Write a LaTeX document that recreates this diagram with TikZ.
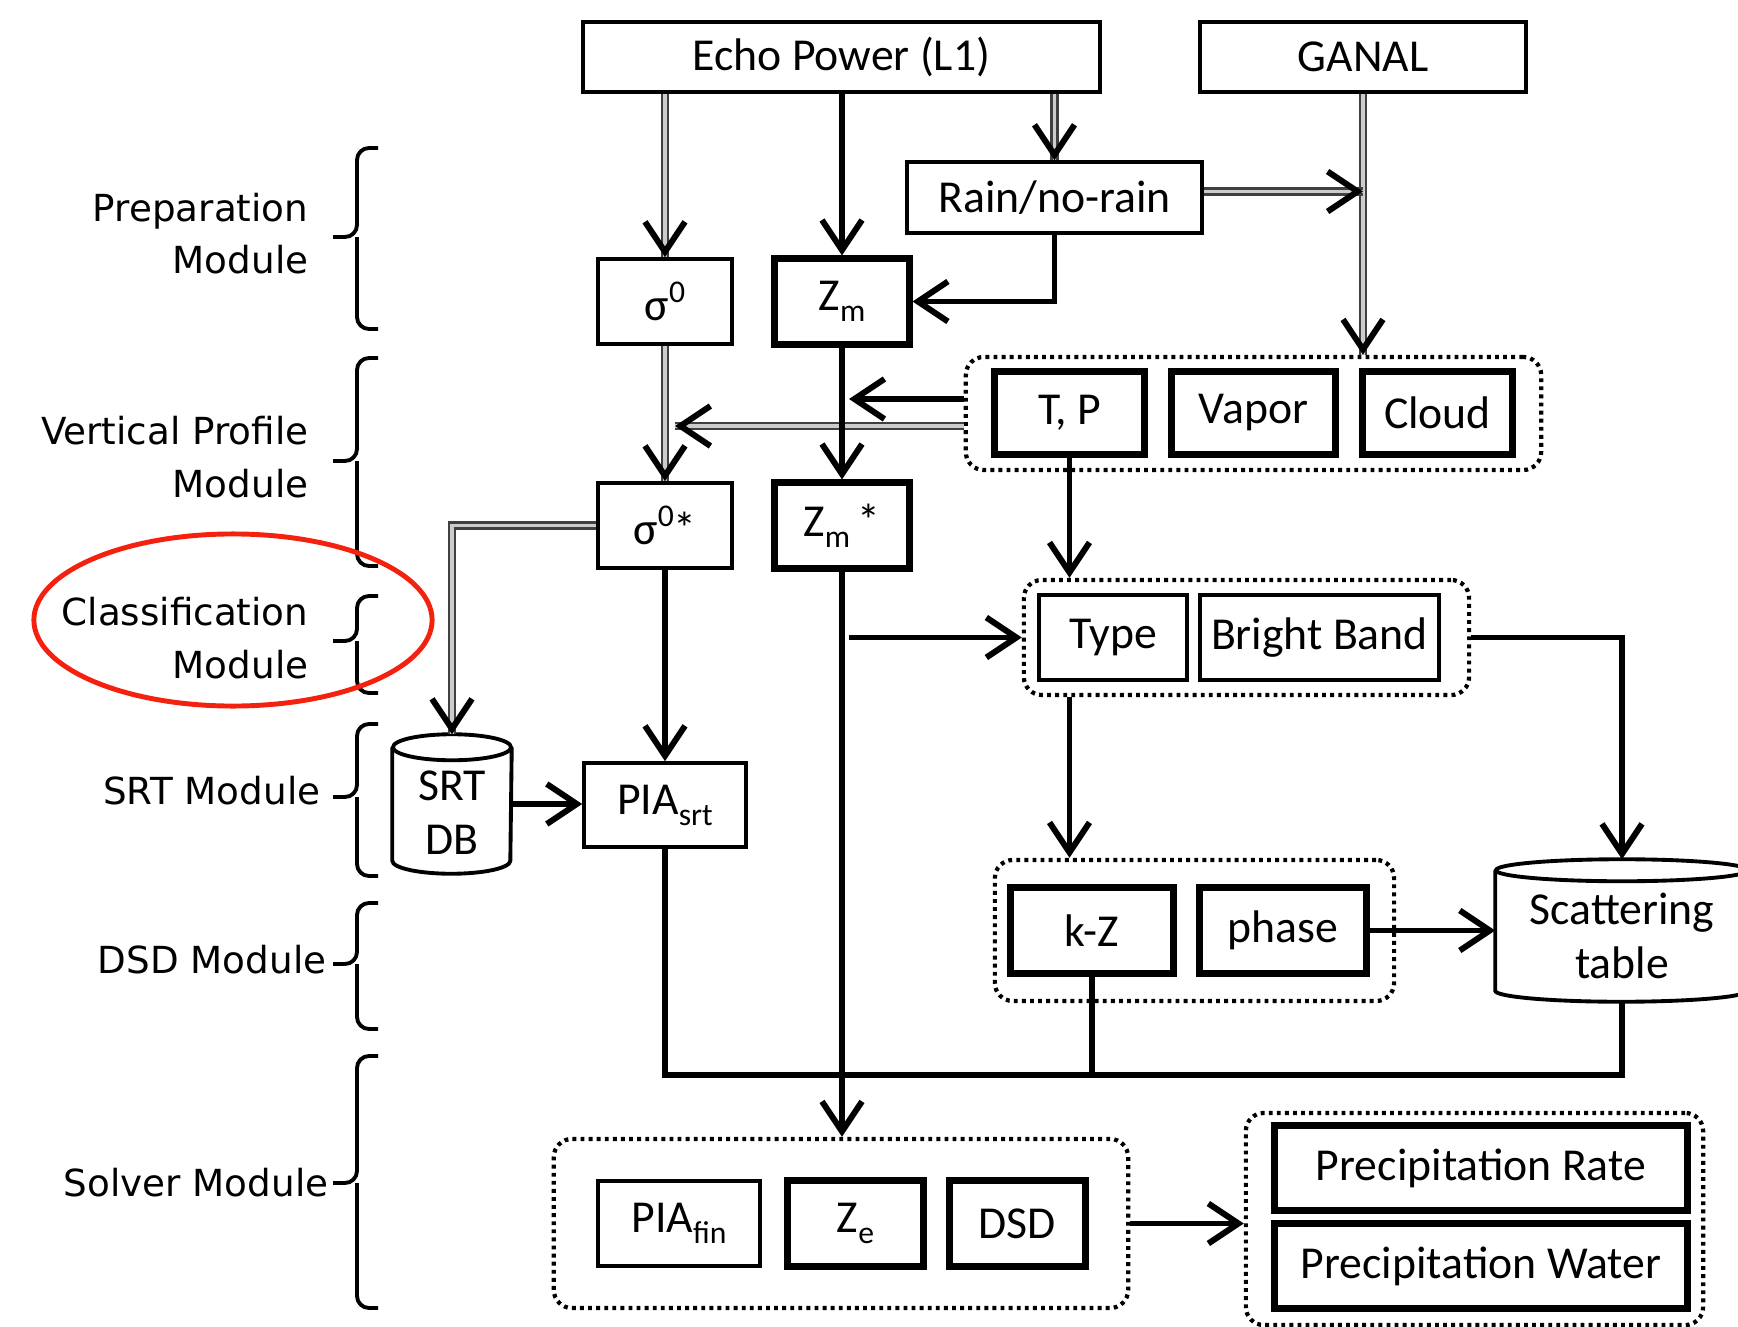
\documentclass[tikz,border=0pt]{standalone}
\usepackage{fontspec}
\setmainfont{Carlito}
\newfontfamily\lblfont{DejaVu Sans}
\usetikzlibrary{arrows.meta,calc}
\newcommand{\sbs}[1]{\raisebox{-0.5ex}{\fontsize{9}{9}\selectfont #1}}
\newcommand{\sps}[1]{\raisebox{0.85ex}{\fontsize{9}{9}\selectfont #1}}
\definecolor{ringred}{HTML}{F5210F}
\newcommand{\modbrace}[3]{\draw[modbr] (378,#1) -- (357,#1) -- (357,#2) -- (333,#2) (357,#2) -- (357,#3) -- (378,#3);}
\begin{document}
\begin{tikzpicture}[x=0.01cm,y=-0.01cm,
  every node/.style={font=\fontsize{13}{15.4}\selectfont, inner sep=0pt, text=black},
  thinbox/.style={draw, line width=1pt, align=center, fill=white},
  thickbox/.style={draw, line width=2pt, align=center, fill=white},
  grp/.style={draw, line width=1.2pt, dash pattern=on 1.1pt off 1.2pt, rounded corners=1.8mm},
  conn/.style={line width=1.7pt},
  arr/.style={conn, -{Straight Barb[length=3mm, width=4mm]}},
  dbl/.style={draw=black!75, line width=0.75pt, double=black!20, double distance=0.9pt},
  modbr/.style={line width=1.1pt, rounded corners=1.2mm},
  cyl/.style={line width=1.1pt, fill=white},
  lbl/.style={font=\lblfont\fontsize{10.6}{15}\selectfont, align=right, anchor=east},
]
\useasboundingbox (0,0) rectangle (1738,1327);

% ---------- nodes ----------
\node[thinbox, minimum width=5.17cm, minimum height=0.70cm] (echo) at (841.5,57) {Echo Power (L1)};
\node[thinbox, minimum width=3.26cm, minimum height=0.70cm] (ganal) at (1363,57) {GANAL};
\node[thinbox, minimum width=2.95cm, minimum height=0.71cm] (rain) at (1054.5,197.5) {Rain/no-rain};
\node[thinbox, minimum width=1.34cm, minimum height=0.85cm] (sig0) at (665,301.5) {σ\sps{0}};
\node[thickbox, minimum width=1.34cm, minimum height=0.85cm] (zm) at (842,301.5) {Z\sbs{m}};

\node[grp, minimum width=5.75cm, minimum height=1.13cm] (g1) at (1253.5,413.5) {};
\node[thickbox, minimum width=1.49cm, minimum height=0.82cm] (tp) at (1069.5,413) {T, P};
\node[thickbox, minimum width=1.63cm, minimum height=0.82cm] (vapor) at (1253.5,413) {Vapor};
\node[thickbox, minimum width=1.49cm, minimum height=0.82cm] (cloud) at (1437.5,413) {Cloud};

\node[thinbox, minimum width=1.34cm, minimum height=0.85cm] (sig0s) at (665,525.5) {σ\sps{0}*};
\node[thickbox, minimum width=1.34cm, minimum height=0.85cm] (zms) at (842,525.5) {Z\sbs{m}\,*};

\node[grp, minimum width=4.45cm, minimum height=1.15cm] (g2) at (1246.5,637.5) {};
\node[thinbox, minimum width=1.48cm, minimum height=0.85cm] (type) at (1113,637.5) {Type};
\node[thinbox, minimum width=2.39cm, minimum height=0.85cm] (bb) at (1319.5,637.5) {Bright Band};

\node[minimum width=1.18cm, minimum height=1.38cm] (srtdb) at (452,804) {};
\draw[cyl] ($(srtdb.north west)+(0,13)$) -- ($(srtdb.south west)+(0,-13)$)
  arc[start angle=180, end angle=360, x radius=0.59cm, y radius=0.13cm]
  -- ($(srtdb.north east)+(0,13)$);
\draw[cyl] ($(srtdb.north)+(0,13)$) ellipse [x radius=0.59cm, y radius=0.13cm];
\node[align=center] (srtdbt) at (452,813) {SRT\\DB};

\node[thinbox, minimum width=1.62cm, minimum height=0.84cm] (piasrt) at (665,805) {PIA\sbs{srt}};

\node[grp, minimum width=3.99cm, minimum height=1.41cm] (g3) at (1194.5,930.5) {};
\node[thickbox, minimum width=1.62cm, minimum height=0.85cm] (kz) at (1092,930.5) {k-Z};
\node[thickbox, minimum width=1.66cm, minimum height=0.85cm] (phase) at (1283,930.5) {phase};

\node[minimum width=2.52cm, minimum height=1.41cm] (scat) at (1622,930.5) {};
\draw[cyl] ($(scat.north west)+(0,11)$) -- ($(scat.south west)+(0,-11)$)
  arc[start angle=180, end angle=360, x radius=1.26cm, y radius=0.11cm]
  -- ($(scat.north east)+(0,11)$);
\draw[cyl] ($(scat.north)+(0,11)$) ellipse [x radius=1.26cm, y radius=0.11cm];
\node[align=center] (scatt) at (1622,936) {Scattering\\table};

\node[grp, minimum width=5.74cm, minimum height=1.69cm] (g4) at (841,1223.5) {};
\node[thinbox, minimum width=1.62cm, minimum height=0.85cm] (piafin) at (679,1223.5) {PIA\sbs{fin}};
\node[thickbox, minimum width=1.35cm, minimum height=0.85cm] (ze) at (855.5,1223.5) {Z\sbs{e}};
\node[thickbox, minimum width=1.35cm, minimum height=0.85cm] (dsd) at (1017.5,1223.5) {DSD};

\node[grp, minimum width=4.57cm, minimum height=2.12cm] (g5) at (1474.5,1219) {};
\node[thickbox, minimum width=4.12cm, minimum height=0.84cm] (prate) at (1481,1168) {Precipitation Rate};
\node[thickbox, minimum width=4.12cm, minimum height=0.84cm] (pwater) at (1481,1266) {Precipitation Water};

% ---------- connectors ----------
% Echo -> sigma0 (double)
\draw[dbl] (echo.south -| sig0.north) -- (sig0.north);
\draw[arr] ($(sig0.north)+(0,-8)$) -- (sig0.north);
% Echo -> Zm
\draw[arr] (echo.south -| zm.north) -- (zm.north);
% Echo -> Rain (double)
\draw[dbl] (echo.south -| rain.north) -- (rain.north);
\draw[arr] ($(rain.north)+(0,-8)$) -- (rain.north);
% GANAL -> group 1 (double)
\draw[dbl] (ganal.south) -- (ganal.south |- g1.north);
\draw[arr] ($(ganal.south |- g1.north)+(0,-8)$) -- (ganal.south |- g1.north);
% Rain -> GANAL line (double)
\coordinate (rj) at ($(rain.east)+(0,-6)$);
\draw[dbl] (rj) -- (rj -| ganal.south);
\draw[arr] ($(rj -| ganal.south)+(-8,0)$) -- (rj -| ganal.south);
% Rain -> Zm
\draw[arr] (rain.south) |- (zm.east);
% sigma0 -> sigma0* (double)
\draw[dbl] (sig0.south) -- (sig0s.north);
\draw[arr] ($(sig0s.north)+(0,-8)$) -- (sig0s.north);
% group 1 -> sigma line (double)
\coordinate (d1) at ($(g1.west)+(0,12.5)$);
\coordinate (d1e) at ($(d1 -| sig0.south)+(10,0)$);
\draw[dbl] (d1) -- (d1e);
\draw[arr] ($(d1e)+(8,0)$) -- (d1e);
% Zm -> Zm*
\draw[arr] (zm.south) -- (zms.north);
% group 1 -> Zm line
\coordinate (s1) at ($(g1.west)+(0,-14.5)$);
\coordinate (s1e) at ($(s1 -| zm.south)+(7,0)$);
\draw[arr] (s1) -- (s1e);
% T,P -> group 2
\draw[arr] (tp.south) -- (tp.south |- g2.north);
% sigma0* -> SRT DB (double)
\draw[dbl] (sig0s.west) -| (srtdb.north);
\draw[arr] ($(srtdb.north)+(0,-8)$) -- (srtdb.north);
% sigma0* -> PIA srt
\draw[arr] (sig0s.south) -- (piasrt.north);
% Zm* -> solver group
\draw[arr] (zms.south) -- (zms.south |- g4.north);
% Zm* line -> group 2
\coordinate (z2) at ($(zms.south |- g2.west)+(7,0)$);
\draw[arr] (z2) -- (g2.west);
% SRT DB -> PIA srt
\draw[arr] (srtdb.east) -- (srtdb.east -| piasrt.west);
% group 2 -> Scattering table
\draw[arr] (g2.east) -| (scat.north);
% group 2 -> group 3
\draw[arr] (tp.south |- g2.south) -- (tp.south |- g3.north);
% phase -> Scattering table
\draw[arr] (phase.east) -- (phase.east -| scat.west);
% bus
\coordinate (bus) at ($(piasrt.south)+(0,226)$);
\draw[conn] (piasrt.south) -- (bus) -| (scat.south);
\draw[conn] (kz.south) -- (kz.south |- bus);
% solver -> outputs
\draw[arr] (g4.east) -- (g4.east -| g5.west);

% ---------- module labels ----------
\node[lbl] (lprep) at (309,233.5) {Preparation\\Module};
\node[lbl] (lvert) at (309,457) {Vertical Profile\\Module};
\node[lbl] (lclass) at (309,638) {Classification\\Module};
\node[lbl] (lsrt) at (321,791) {SRT Module};
\node[lbl] (ldsd) at (327,960) {DSD Module};
\node[lbl] (lsolv) at (329,1183) {Solver Module};
\modbrace{148}{237}{329}
\modbrace{358}{461}{566}
\modbrace{596}{641}{693}
\modbrace{724}{797}{876}
\modbrace{903}{964}{1029}
\modbrace{1056}{1183}{1308}

% red highlight
\draw[ringred, line width=1.4pt] (233,620) ellipse [x radius=1.99cm, y radius=0.86cm];
\end{tikzpicture}
\end{document}
